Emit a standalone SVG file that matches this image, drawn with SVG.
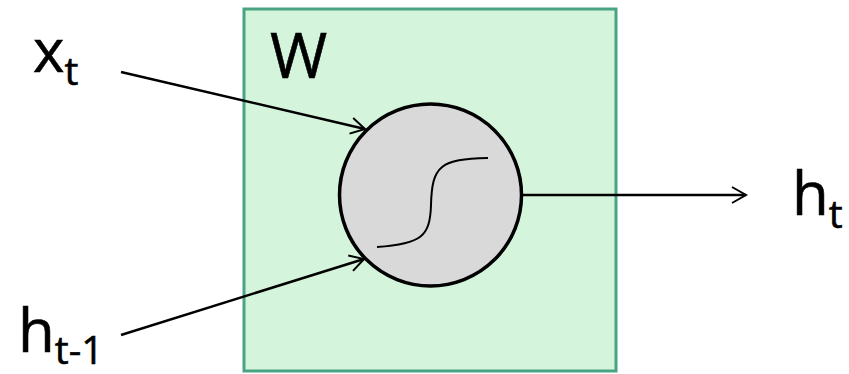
<svg xmlns="http://www.w3.org/2000/svg" width="849" height="374" viewBox="0 0 849 374">
<defs>
<marker id="arr" markerWidth="20" markerHeight="20" refX="18" refY="10" orient="auto" markerUnits="userSpaceOnUse">
<path d="M4,2 L18,10 L4,18" fill="none" stroke="#000" stroke-width="2"/>
</marker>
<style>
.lbl{font-family:"Open Sans","Liberation Sans",sans-serif;fill:#000;stroke:#000;stroke-width:0.6}
.conn{stroke:#000;stroke-width:2.5;fill:none;marker-end:url(#arr)}
</style>
</defs>
<rect width="849" height="374" fill="#fff"/>
<g id="W">
<rect x="244" y="9" width="372" height="362" fill="#d5f4dc" stroke="#4aa383" stroke-width="3"/>
<text class="lbl" x="270" y="78" font-size="62">W</text>
</g>
<g id="neuron">
<circle cx="430.5" cy="195" r="91" fill="#d9d9d9" stroke="#000" stroke-width="3.5"/>
<path d="M377,247 C422,244 430,236 431,205 C432,166 440,159 488,158" fill="none" stroke="#000" stroke-width="2"/>
</g>
<g id="xt"><text class="lbl" x="33" y="72" font-size="60">x<tspan font-size="39" dy="13">t</tspan></text></g>
<g id="ht1"><text class="lbl" x="18" y="352" font-size="60">h<tspan font-size="39" dy="12">t-1</tspan></text></g>
<g id="ht"><text class="lbl" x="792" y="215" font-size="60">h<tspan font-size="39" dy="13">t</tspan></text></g>
<g id="connectors">
<line class="conn" x1="121" y1="72" x2="365" y2="129"/>
<line class="conn" x1="121" y1="335" x2="364" y2="259"/>
<line class="conn" x1="522" y1="195" x2="746" y2="195"/>
</g>
</svg>
